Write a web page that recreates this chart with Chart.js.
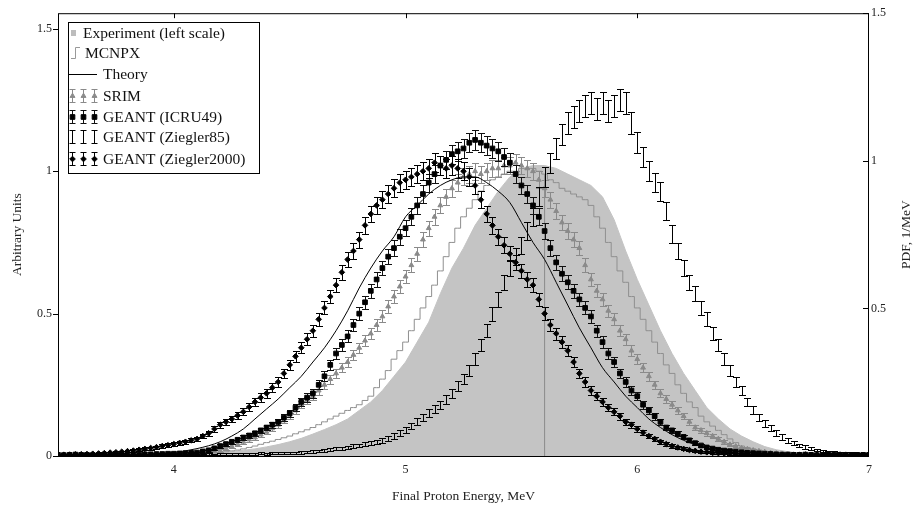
<!DOCTYPE html>
<html><head><meta charset="utf-8">
<script src="https://cdn.jsdelivr.net/npm/chart.js@4.4.1/dist/chart.umd.min.js"></script>
<style>html,body{margin:0;padding:0;background:#fff;}#wrap{width:916px;height:509px;position:relative;}</style>
</head><body><div id="wrap"><canvas id="c" width="916" height="509"></canvas></div>
<script>
// Coarse energy grid (MeV) for experiment and theory
const energy = [
 3.50,3.55,3.60,3.65,3.70,3.75,3.80,3.85,3.90,3.95,
 4.00,4.05,4.10,4.15,4.20,4.25,4.30,4.35,4.40,4.45,
 4.50,4.55,4.60,4.65,4.70,4.75,4.80,4.85,4.90,4.95,
 5.00,5.05,5.10,5.15,5.20,5.25,5.30,5.35,5.40,5.45,
 5.50,5.55,5.60,5.65,5.70,5.75,5.80,5.85,5.90,5.95,
 6.00,6.05,6.10,6.15,6.20,6.25,6.30,6.35,6.40,6.45,
 6.50,6.55,6.60,6.65,6.70,6.75,6.80,6.85,6.90,6.95,
 7.00];
const experiment = [
 0,0,0,0,0,0,0,0,0,0.001,
 0.002,0.003,0.005,0.008,0.012,0.016,0.02,0.025,0.032,0.04,
 0.05,0.062,0.077,0.093,0.11,0.13,0.16,0.19,0.23,0.28,
 0.33,0.40,0.47,0.57,0.66,0.73,0.81,0.87,0.93,0.98,
 1.01,1.02,1.02,1.01,0.99,0.97,0.95,0.91,0.83,0.72,
 0.62,0.53,0.44,0.36,0.29,0.23,0.17,0.13,0.095,0.07,
 0.05,0.033,0.022,0.015,0.01,0.006,0.004,0.002,0.001,0,
 0];
const theory = [
 0,0,0,0,0,0,0.002,0.003,0.005,0.008,
 0.012,0.018,0.026,0.036,0.05,0.07,0.095,0.13,0.165,0.20,
 0.24,0.28,0.33,0.38,0.44,0.51,0.59,0.66,0.72,0.77,
 0.84,0.88,0.92,0.95,0.97,0.98,0.98,0.96,0.93,0.89,
 0.82,0.75,0.69,0.61,0.53,0.45,0.38,0.31,0.26,0.21,
 0.17,0.13,0.10,0.075,0.055,0.04,0.028,0.02,0.013,0.008,
 0.005,0.003,0.002,0.001,0,0,0,0,0,0,
 0];
// Fine energy grid (MeV) for MCNPX and the simulated spectra with error bars
const energyFine = [
 3.500,3.525,3.550,3.575,3.600,3.625,3.650,3.675,3.700,3.725,3.750,3.775,3.800,3.825,3.850,3.875,3.900,3.925,3.950,3.975,
 4.000,4.025,4.050,4.075,4.100,4.125,4.150,4.175,4.200,4.225,4.250,4.275,4.300,4.325,4.350,4.375,4.400,4.425,4.450,4.475,
 4.500,4.525,4.550,4.575,4.600,4.625,4.650,4.675,4.700,4.725,4.750,4.775,4.800,4.825,4.850,4.875,4.900,4.925,4.950,4.975,
 5.000,5.025,5.050,5.075,5.100,5.125,5.150,5.175,5.200,5.225,5.250,5.275,5.300,5.325,5.350,5.375,5.400,5.425,5.450,5.475,
 5.500,5.525,5.550,5.575,5.600,5.625,5.650,5.675,5.700,5.725,5.750,5.775,5.800,5.825,5.850,5.875,5.900,5.925,5.950,5.975,
 6.000,6.025,6.050,6.075,6.100,6.125,6.150,6.175,6.200,6.225,6.250,6.275,6.300,6.325,6.350,6.375,6.400,6.425,6.450,6.475,
 6.500,6.525,6.550,6.575,6.600,6.625,6.650,6.675,6.700,6.725,6.750,6.775,6.800,6.825,6.850,6.875,6.900,6.925,6.950,6.975,
 7.000];
const mcnpx = [
 0,0,0,0,0,0,0,0,0,0,0,0,0,0,0,0,0,0,0.001,0.001,
 0.002,0.002,0.003,0.004,0.005,0.006,0.008,0.01,0.012,0.015,0.018,0.021,0.025,0.03,0.035,0.041,0.047,0.052,0.058,0.064,
 0.07,0.078,0.085,0.092,0.10,0.11,0.12,0.13,0.14,0.15,0.16,0.17,0.18,0.195,0.21,0.24,0.27,0.30,0.34,0.37,
 0.40,0.44,0.48,0.52,0.56,0.60,0.65,0.70,0.75,0.80,0.84,0.87,0.90,0.93,0.95,0.97,0.98,0.99,1.0,1.0,
 1.01,1.01,1.01,1.0,0.99,0.97,0.96,0.94,0.93,0.92,0.91,0.90,0.88,0.84,0.80,0.75,0.70,0.65,0.61,0.56,
 0.52,0.48,0.44,0.40,0.36,0.32,0.29,0.25,0.22,0.19,0.17,0.14,0.12,0.105,0.09,0.075,0.06,0.047,0.035,0.03,
 0.025,0.021,0.017,0.014,0.011,0.009,0.007,0.005,0.004,0.003,0.002,0.002,0.001,0.001,0,0,0,0,0,0,
 0];
const srim = [
 0.004,0.005,0.003,0.004,0.005,0.004,0.003,0.004,0.005,0.004,0.004,0.003,0.005,0.004,0.004,0.005,0.004,0.003,0.005,0.004,
 0.005,0.004,0.006,0.007,0.01,0.012,0.015,0.017,0.02,0.027,0.035,0.042,0.05,0.058,0.065,0.075,0.085,0.097,0.11,0.125,
 0.14,0.16,0.18,0.195,0.21,0.23,0.25,0.27,0.29,0.31,0.33,0.355,0.38,0.405,0.43,0.46,0.49,0.525,0.56,0.595,
 0.63,0.67,0.71,0.76,0.80,0.84,0.88,0.91,0.94,0.96,0.98,0.99,1.0,0.99,1.0,1.01,1.01,1.02,1.02,1.03,
 1.02,1.01,1.0,0.97,0.94,0.90,0.86,0.82,0.79,0.76,0.73,0.67,0.62,0.58,0.55,0.51,0.48,0.44,0.41,0.37,
 0.34,0.31,0.28,0.25,0.22,0.20,0.18,0.16,0.14,0.12,0.10,0.09,0.08,0.07,0.06,0.05,0.04,0.034,0.028,0.024,
 0.02,0.017,0.014,0.011,0.009,0.007,0.006,0.005,0.005,0.004,0.004,0.005,0.004,0.003,0.004,0.004,0.005,0.004,0.003,0.004,
 0.004];
const geantICRU49 = [
 0.004,0.003,0.004,0.005,0.004,0.004,0.003,0.004,0.005,0.004,0.005,0.004,0.005,0.006,0.005,0.006,0.006,0.007,0.007,0.008,
 0.008,0.009,0.01,0.011,0.012,0.016,0.02,0.027,0.035,0.042,0.05,0.057,0.065,0.072,0.08,0.09,0.10,0.11,0.12,0.135,
 0.15,0.17,0.19,0.205,0.22,0.25,0.28,0.32,0.36,0.39,0.42,0.46,0.50,0.54,0.58,0.62,0.66,0.70,0.73,0.77,
 0.80,0.84,0.88,0.92,0.96,0.99,1.02,1.04,1.06,1.07,1.08,1.10,1.11,1.10,1.09,1.08,1.07,1.05,1.03,0.99,
 0.95,0.92,0.88,0.84,0.79,0.73,0.68,0.64,0.61,0.58,0.55,0.52,0.49,0.44,0.40,0.36,0.33,0.29,0.26,0.23,
 0.21,0.18,0.16,0.14,0.12,0.10,0.09,0.078,0.067,0.055,0.045,0.037,0.03,0.026,0.022,0.019,0.017,0.015,0.013,0.011,
 0.01,0.009,0.008,0.007,0.006,0.005,0.005,0.004,0.004,0.005,0.004,0.003,0.004,0.004,0.005,0.004,0.004,0.003,0.004,0.004,
 0.004];
const geantZiegler85 = [
 0.004,0.005,0.004,0.003,0.004,0.005,0.004,0.004,0.005,0.004,0.005,0.005,0.004,0.006,0.005,0.005,0.006,0.005,0.006,0.006,
 0.006,0.005,0.006,0.007,0.006,0.006,0.007,0.006,0.007,0.008,0.007,0.008,0.008,0.007,0.008,0.009,0.008,0.009,0.009,0.01,
 0.01,0.011,0.012,0.014,0.016,0.018,0.02,0.022,0.025,0.027,0.03,0.034,0.037,0.041,0.045,0.05,0.055,0.062,0.07,0.08,
 0.09,0.105,0.12,0.135,0.15,0.165,0.18,0.20,0.22,0.245,0.27,0.30,0.34,0.39,0.44,0.50,0.55,0.61,0.66,0.70,
 0.74,0.79,0.84,0.91,0.98,1.03,1.08,1.13,1.17,1.19,1.21,1.23,1.24,1.22,1.24,1.21,1.23,1.25,1.24,1.17,
 1.10,1.05,1.0,0.96,0.93,0.86,0.78,0.72,0.66,0.61,0.57,0.52,0.48,0.43,0.39,0.34,0.30,0.26,0.23,0.19,
 0.16,0.135,0.115,0.097,0.08,0.067,0.055,0.045,0.037,0.031,0.025,0.021,0.018,0.015,0.013,0.011,0.01,0.009,0.008,0.007,
 0.006];
const geantZiegler2000 = [
 0.004,0.004,0.005,0.006,0.006,0.007,0.008,0.009,0.01,0.012,0.013,0.015,0.017,0.019,0.022,0.025,0.028,0.031,0.035,0.038,
 0.042,0.046,0.05,0.055,0.06,0.07,0.08,0.095,0.11,0.12,0.13,0.142,0.155,0.172,0.19,0.205,0.22,0.24,0.26,0.29,
 0.32,0.35,0.38,0.41,0.44,0.48,0.52,0.56,0.60,0.645,0.69,0.72,0.76,0.81,0.85,0.88,0.90,0.92,0.94,0.96,
 0.97,0.98,0.99,1.0,1.01,1.03,1.02,1.01,1.02,1.01,1.0,0.98,0.95,0.90,0.85,0.81,0.77,0.74,0.71,0.68,
 0.65,0.62,0.60,0.55,0.50,0.46,0.43,0.40,0.37,0.33,0.29,0.26,0.23,0.21,0.19,0.17,0.155,0.14,0.12,0.11,
 0.095,0.082,0.07,0.06,0.05,0.042,0.035,0.03,0.025,0.021,0.018,0.015,0.013,0.011,0.01,0.009,0.008,0.007,0.006,0.006,
 0.005,0.005,0.004,0.005,0.004,0.004,0.003,0.004,0.004,0.005,0.004,0.004,0.003,0.004,0.004,0.005,0.004,0.004,0.003,0.004,
 0.004];
// Mean energy marker (vertical line)
const markerEnergy = [5.6, 5.6];
const markerLevel = [0, 0.99];
// Tick labels
const xTicks = [4, 5, 6, 7];
const yLeftTicks = [0, 0.5, 1, 1.5];
const yRightTicks = [0.5, 1, 1.5];
const seriesLabels = ['Experiment (left scale)','MCNPX','Theory','SRIM','GEANT (ICRU49)','GEANT (Ziegler85)','GEANT (Ziegler2000)'];

const SERIF = '"Liberation Serif", "DejaVu Serif", serif';
const pts = vals => energy.map((e,i)=>({x:e, y:vals[i]}));
const ptsFine = vals => energyFine.map((e,i)=>({x:e, y:vals[i]}));

const errorBars = {
  id:'errorBars',
  beforeDatasetDraw(chart, args){
    const ds = chart.data.datasets[args.index];
    if(!ds.errK) return;
    const meta = args.meta, ys = chart.scales[meta.yAxisID], ctx = chart.ctx, a = chart.chartArea;
    const cap = 3.5;
    ctx.save();
    ctx.beginPath(); ctx.rect(a.left, a.top, a.right-a.left, a.bottom-a.top); ctx.clip();
    ctx.strokeStyle = ds.errColor; ctx.lineWidth = 1;
    ctx.beginPath();
    meta.data.forEach((el,i)=>{
      const v = ds.data[i].y, e = ds.errK*Math.sqrt(v);
      const x = Math.round(el.x)+0.5;
      const y1 = Math.round(ys.getPixelForValue(v+e))+0.5, y2 = Math.round(ys.getPixelForValue(v-e))+0.5;
      ctx.moveTo(x,y1); ctx.lineTo(x,y2);
      ctx.moveTo(x-cap,y1); ctx.lineTo(x+cap,y1);
      ctx.moveTo(x-cap,y2); ctx.lineTo(x+cap,y2);
    });
    ctx.stroke();
    ctx.restore();
  }
};

const decor = {
  id:'decor',
  afterDraw(chart){
    const ctx = chart.ctx, a = chart.chartArea;
    const xs = chart.scales.x, yl = chart.scales.y, yr = chart.scales.y2;
    ctx.save();
    ctx.strokeStyle = '#000'; ctx.lineWidth = 1;
    ctx.strokeRect(a.left+0.5, a.top+0.5, a.right-a.left-1, a.bottom-a.top);
    ctx.beginPath();
    yLeftTicks.forEach(v=>{const y=Math.round(yl.getPixelForValue(v))+0.5; ctx.moveTo(a.left-5,y); ctx.lineTo(a.left,y);});
    yRightTicks.forEach(v=>{const y=Math.round(yr.getPixelForValue(v))+0.5; ctx.moveTo(a.right-6,y); ctx.lineTo(a.right,y);});
    xTicks.slice(0,3).forEach(v=>{const x=Math.round(xs.getPixelForValue(v))+0.5; ctx.moveTo(x,a.top); ctx.lineTo(x,a.top+5);});
    ctx.stroke();
    ctx.fillStyle = '#222';
    ctx.font = '13.5px ' + SERIF;
    ctx.textAlign = 'center'; ctx.textBaseline = 'middle';
    ctx.translate(906, (a.top+a.bottom)/2);
    ctx.rotate(-Math.PI/2);
    ctx.fillText('PDF, 1/MeV', 0, 0);
    ctx.restore();

    // legend
    ctx.save();
    const L = {x:68, y:22, w:191, h:151};
    ctx.fillStyle = '#fff'; ctx.fillRect(L.x, L.y, L.w, L.h);
    ctx.strokeStyle = '#000'; ctx.lineWidth = 1;
    ctx.strokeRect(L.x+0.5, L.y+0.5, L.w, L.h);
    const rows = [33, 53, 74, 96, 117, 137, 159];
    ctx.font = '15.5px ' + SERIF;
    ctx.textAlign = 'left'; ctx.textBaseline = 'middle';
    ctx.fillStyle = '#bdbdbd'; ctx.fillRect(71, rows[0]-3, 5, 6);
    ctx.strokeStyle = '#999'; ctx.beginPath();
    ctx.moveTo(71, rows[1]+5.5); ctx.lineTo(75.5, rows[1]+5.5); ctx.lineTo(75.5, rows[1]-5.5); ctx.lineTo(80, rows[1]-5.5); ctx.stroke();
    ctx.strokeStyle = '#000'; ctx.beginPath(); ctx.moveTo(69, rows[2]+0.5); ctx.lineTo(97, rows[2]+0.5); ctx.stroke();
    const dsets = chart.data.datasets;
    const errSeries = ['SRIM','GEANT (ICRU49)','GEANT (Ziegler85)','GEANT (Ziegler2000)'];
    errSeries.forEach((lab, k)=>{
      const ds = dsets.find(d=>d.label===lab);
      const y = rows[3+k];
      [72.5, 83.5, 94.5].forEach(x=>{
        ctx.strokeStyle = ds.errColor; ctx.lineWidth = 1; ctx.beginPath();
        ctx.moveTo(x, y-6.5); ctx.lineTo(x, y+6.5);
        ctx.moveTo(x-3, y-6.5); ctx.lineTo(x+3, y-6.5);
        ctx.moveTo(x-3, y+6.5); ctx.lineTo(x+3, y+6.5);
        ctx.stroke();
        if (ds.pointRadius > 0) {
          ctx.fillStyle = ds.backgroundColor; ctx.strokeStyle = ds.borderColor;
          Chart.helpers.drawPoint(ctx, {pointStyle: ds.pointStyle, radius: ds.pointRadius, rotation: 0, borderWidth: 1}, x, y);
        }
      });
    });
    ctx.fillStyle = '#111';
    const textX = [83, 85, 103, 103, 103, 103, 103];
    seriesLabels.forEach((t,i)=>ctx.fillText(t, textX[i], rows[i]+1));
    ctx.restore();
  }
};

new Chart(document.getElementById('c').getContext('2d'), {
  type:'line',
  data:{datasets:[
    {label:'Theory', data:pts(theory), borderColor:'#000', borderWidth:1, pointRadius:0, fill:false, cubicInterpolationMode:'monotone', order:2},
    {label:'GEANT (Ziegler2000)', data:ptsFine(geantZiegler2000), showLine:false, pointStyle:'rectRot', pointRadius:2.8, backgroundColor:'#000', borderColor:'#000', errK:0.032, errColor:'#000', order:3},
    {label:'GEANT (ICRU49)', data:ptsFine(geantICRU49), showLine:false, pointStyle:'rect', pointRadius:3.3, backgroundColor:'#000', borderColor:'#000', errK:0.032, errColor:'#111', order:4},
    {label:'GEANT (Ziegler85)', data:ptsFine(geantZiegler85), showLine:false, pointRadius:0, backgroundColor:'#000', borderColor:'#000', errK:0.035, errColor:'#000', order:5},
    {label:'SRIM', data:ptsFine(srim), showLine:false, pointStyle:'triangle', pointRadius:2.8, backgroundColor:'#8a8a8a', borderColor:'#8a8a8a', errK:0.03, errColor:'#8a8a8a', order:6},
    {label:'MCNPX', data:ptsFine(mcnpx), stepped:'middle', borderColor:'#8f8f8f', borderWidth:1, pointRadius:0, fill:false, order:7},
    {label:'marker', data:markerEnergy.map((e,i)=>({x:e, y:markerLevel[i]})), borderColor:'#8a8a8a', borderWidth:1, pointRadius:0, fill:false, order:8},
    {label:'Experiment (left scale)', data:pts(experiment), fill:'origin', backgroundColor:'#c4c4c4', borderColor:'#c4c4c4', borderWidth:1, pointRadius:0, order:10}
  ]},
  options:{
    responsive:false, animation:false, devicePixelRatio:1,
    layout:{padding:{top:13, left:0, right:0, bottom:0}},
    plugins:{legend:{display:false}, tooltip:{enabled:false}},
    scales:{
      x:{type:'linear', min:3.5, max:7,
        afterBuildTicks:s=>{s.ticks = xTicks.map(v=>({value:v}));},
        afterFit:s=>{s.height = 53;},
        grid:{display:false, drawTicks:false}, border:{display:false},
        ticks:{padding:7, font:{family:SERIF, size:12}, color:'#222', callback:v=>String(v), maxRotation:0},
        title:{display:true, text:'Final Proton Energy, MeV', font:{family:SERIF, size:13.5}, color:'#222', padding:{top:0, bottom:4}}},
      y:{position:'left', min:0, max:1.555,
        afterBuildTicks:s=>{s.ticks = yLeftTicks.map(v=>({value:v}));},
        afterFit:s=>{s.width = 58;},
        grid:{display:false, drawTicks:false}, border:{display:false},
        ticks:{padding:6, font:{family:SERIF, size:12}, color:'#222', callback:v=>String(v)},
        title:{display:true, text:'Arbitrary Units', font:{family:SERIF, size:13.5}, color:'#222', padding:{top:9, bottom:0}}},
      y2:{position:'right', min:0, max:1.5,
        afterBuildTicks:s=>{s.ticks = yRightTicks.map(v=>({value:v}));},
        afterFit:s=>{s.width = 47;},
        grid:{display:false, drawTicks:false}, border:{display:false},
        ticks:{padding:2, font:{family:SERIF, size:12}, color:'#222', callback:v=>String(v)}}
    }
  },
  plugins:[errorBars, decor]
});
</script>
</body></html>
